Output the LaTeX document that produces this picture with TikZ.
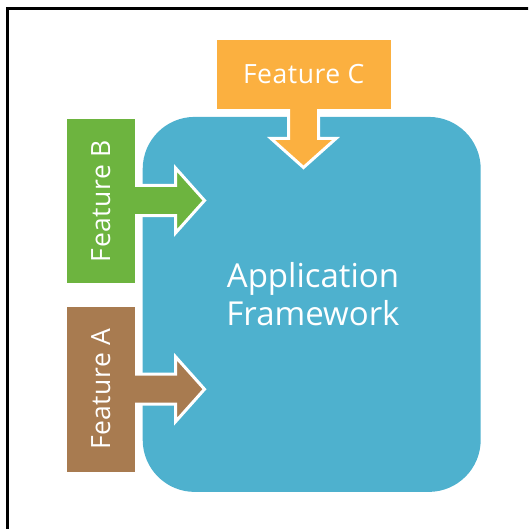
\documentclass[tikz,border=0pt]{standalone}
\usepackage{fontspec}
\setmainfont{Open Sans}
\newfontfamily\featfont[LetterSpace=2]{Open Sans}
\definecolor{fwblue}{RGB}{78,177,206}
\definecolor{featgreen}{RGB}{109,180,63}
\definecolor{featbrown}{RGB}{168,123,80}
\definecolor{featorange}{RGB}{251,176,64}
\begin{document}
\begin{tikzpicture}[x=1pt,y=-1pt,
  featbox/.style={draw=none, inner sep=0pt, text=white,
    font=\featfont\fontsize{26.5}{30}\selectfont},
  % block arrow with a white rim; origin at the tip, pointing along +x
  pics/fatarrow/.style={code={
    \path[fill=#1, draw=white, line width=3pt, miter limit=10]
      (-90,-15) -- (-29,-15) -- (-29,-32.5) -- (0,0) -- (-29,32.5)
      -- (-29,15) -- (-90,15) -- cycle;}}]
  \path[clip] (0,0) rectangle (528,529);
  % outer frame, running off the right and bottom edges
  \draw[line width=3.2pt] (7.5,8.4) rectangle (560,560);

  % application framework block
  \node[fill=fwblue, rounded corners=52pt, minimum width=338pt,
        minimum height=375pt, inner sep=0pt] (fw) at (311.7,304.4) {};
  \node[text=white, align=center, inner sep=0pt,
        font=\fontsize{33}{38}\selectfont] (fwtext) at (313,294)
        {Application\\Framework};

  % arrows feeding into the framework
  \pic at (204.5,200.5) {fatarrow=featgreen};
  \pic at (204.5,389.2) {fatarrow=featbrown};
  \pic[rotate=-90] at (303.5,167.5) {fatarrow=featorange};

  % feature blocks
  \node[featbox, fill=featorange, minimum width=174pt, minimum height=69pt]
        (fc) at (303.7,74.5) {Feature C};
  \node[featbox, fill=featgreen, minimum width=68.3pt, minimum height=164.3pt]
        (fb) at (100.8,201.2) {};
  \node[featbox, fill=featbrown, minimum width=68.3pt, minimum height=165pt]
        (fa) at (100.8,389.2) {};
  \node[featbox, rotate=90] (fbtext) at (fb.center) {Feature B};
  \node[featbox, rotate=90] (fatext) at (fa.center) {Feature A};
\end{tikzpicture}
\end{document}
